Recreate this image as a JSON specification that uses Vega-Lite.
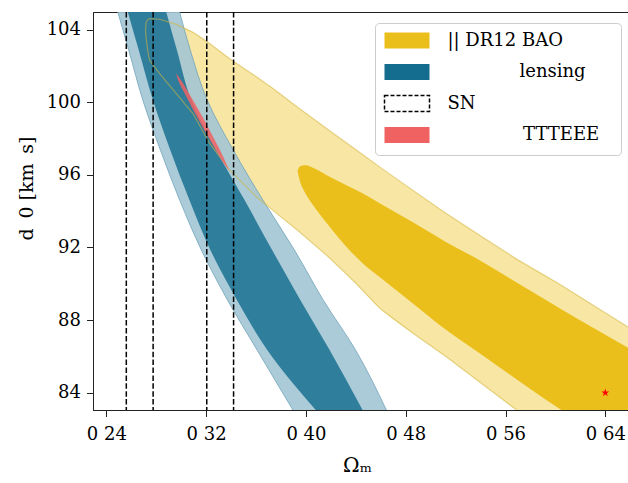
{
  "$schema": "https://vega.github.io/schema/vega-lite/v6.json",
  "width": 535,
  "height": 398,
  "autosize": {"type": "none"},
  "padding": {"left": 93, "top": 12, "right": 0, "bottom": 73},
  "background": "white",
  "config": {"view": {"stroke": "#222222", "strokeWidth": 1}, "font": "DejaVu Serif"},
  "datasets": {
    "yo": [
      {"x": 0.27190, "hi": 104.40, "lo": 103.52},
      {"x": 0.27311, "hi": 104.55, "lo": 102.86},
      {"x": 0.27471, "hi": 104.61, "lo": 102.31},
      {"x": 0.28273, "hi": 104.57, "lo": 101.58},
      {"x": 0.29611, "hi": 104.29, "lo": 100.48},
      {"x": 0.30942, "hi": 103.85, "lo": 99.38},
      {"x": 0.32281, "hi": 103.23, "lo": 97.73},
      {"x": 0.33884, "hi": 102.40, "lo": 96.26},
      {"x": 0.36024, "hi": 101.40, "lo": 94.79},
      {"x": 0.37331, "hi": 100.77, "lo": 94.06},
      {"x": 0.39495, "hi": 99.64, "lo": 92.85},
      {"x": 0.41900, "hi": 98.43, "lo": 91.42},
      {"x": 0.43904, "hi": 97.44, "lo": 90.10},
      {"x": 0.45908, "hi": 96.44, "lo": 88.66},
      {"x": 0.48553, "hi": 95.16, "lo": 87.29},
      {"x": 0.51279, "hi": 93.86, "lo": 85.97},
      {"x": 0.53924, "hi": 92.68, "lo": 84.59},
      {"x": 0.56890, "hi": 91.36, "lo": 83.05},
      {"x": 0.60337, "hi": 89.98, "lo": 81.40},
      {"x": 0.65788, "hi": 87.63, "lo": 78.64},
      {"x": 0.67551, "hi": 86.90, "lo": 77.82}
    ],
    "yi": [
      {"x": 0.39335, "hi": 96.24, "lo": 96.18},
      {"x": 0.39495, "hi": 96.45, "lo": 95.71},
      {"x": 0.39736, "hi": 96.52, "lo": 95.27},
      {"x": 0.40032, "hi": 96.53, "lo": 94.89},
      {"x": 0.40561, "hi": 96.39, "lo": 94.34},
      {"x": 0.41900, "hi": 95.89, "lo": 93.14},
      {"x": 0.43239, "hi": 95.43, "lo": 92.04},
      {"x": 0.44569, "hi": 94.97, "lo": 91.12},
      {"x": 0.45908, "hi": 94.44, "lo": 90.37},
      {"x": 0.48577, "hi": 93.39, "lo": 88.92},
      {"x": 0.51255, "hi": 92.29, "lo": 87.45},
      {"x": 0.53924, "hi": 91.30, "lo": 86.17},
      {"x": 0.56593, "hi": 90.20, "lo": 84.88},
      {"x": 0.59271, "hi": 89.10, "lo": 83.60},
      {"x": 0.61940, "hi": 88.00, "lo": 82.39},
      {"x": 0.65788, "hi": 86.49, "lo": 80.57},
      {"x": 0.67551, "hi": 85.80, "lo": 79.75}
    ],
    "blue": [
      {"H": 105.0, "ll": 0.2491, "dl": 0.2571, "dr": 0.2879, "lr": 0.2986},
      {"H": 102.86, "ll": 0.2580, "dl": 0.2660, "dr": 0.2966, "lr": 0.3073},
      {"H": 100.11, "ll": 0.2693, "dl": 0.2774, "dr": 0.3081, "lr": 0.3209},
      {"H": 97.36, "ll": 0.2834, "dl": 0.2913, "dr": 0.3281, "lr": 0.3418},
      {"H": 94.61, "ll": 0.2988, "dl": 0.3066, "dr": 0.3508, "lr": 0.3655},
      {"H": 91.86, "ll": 0.3162, "dl": 0.3234, "dr": 0.3729, "lr": 0.3908},
      {"H": 89.10, "ll": 0.3372, "dl": 0.3448, "dr": 0.3956, "lr": 0.4139},
      {"H": 86.35, "ll": 0.3609, "dl": 0.3690, "dr": 0.4190, "lr": 0.4398},
      {"H": 83.0, "ll": 0.3900, "dl": 0.4085, "dr": 0.4458, "lr": 0.4648}
    ],
    "red": [
      {"H": 101.60, "xl": 0.29580, "xr": 0.29580},
      {"H": 101.21, "xl": 0.29760, "xr": 0.29990},
      {"H": 100.39, "xl": 0.30353, "xr": 0.30713},
      {"H": 99.01, "xl": 0.31411, "xr": 0.31852},
      {"H": 97.64, "xl": 0.32541, "xr": 0.32902},
      {"H": 96.81, "xl": 0.33263, "xr": 0.33495},
      {"H": 96.20, "xl": 0.33850, "xr": 0.33850}
    ],
    "outline": [
      {"o": 1, "x": 0.27140, "H": 103.95},
      {"o": 2, "x": 0.27190, "H": 104.40},
      {"o": 3, "x": 0.27311, "H": 104.55},
      {"o": 4, "x": 0.27471, "H": 104.61},
      {"o": 5, "x": 0.28273, "H": 104.57},
      {"o": 6, "x": 0.29611, "H": 104.29},
      {"o": 7, "x": 0.30942, "H": 103.85},
      {"o": 8, "x": 0.32281, "H": 103.23},
      {"o": 9, "x": 0.33884, "H": 102.40},
      {"o": 10, "x": 0.36024, "H": 101.40},
      {"o": 11, "x": 0.37331, "H": 100.77},
      {"o": 12, "x": 0.39495, "H": 99.64},
      {"o": 13, "x": 0.41900, "H": 98.43},
      {"o": 14, "x": 0.43904, "H": 97.44},
      {"o": 15, "x": 0.45908, "H": 96.44},
      {"o": 16, "x": 0.48553, "H": 95.16},
      {"o": 17, "x": 0.51279, "H": 93.86},
      {"o": 18, "x": 0.53924, "H": 92.68},
      {"o": 19, "x": 0.56890, "H": 91.36},
      {"o": 20, "x": 0.60337, "H": 89.98},
      {"o": 21, "x": 0.65788, "H": 87.63},
      {"o": 22, "x": 0.67551, "H": 86.90},
      {"o": 23, "x": 0.67551, "H": 77.82},
      {"o": 24, "x": 0.65788, "H": 78.64},
      {"o": 25, "x": 0.60337, "H": 81.40},
      {"o": 26, "x": 0.56890, "H": 83.05},
      {"o": 27, "x": 0.53924, "H": 84.59},
      {"o": 28, "x": 0.51279, "H": 85.97},
      {"o": 29, "x": 0.48553, "H": 87.29},
      {"o": 30, "x": 0.45908, "H": 88.66},
      {"o": 31, "x": 0.43904, "H": 90.10},
      {"o": 32, "x": 0.41900, "H": 91.42},
      {"o": 33, "x": 0.39495, "H": 92.85},
      {"o": 34, "x": 0.37331, "H": 94.06},
      {"o": 35, "x": 0.36024, "H": 94.79},
      {"o": 36, "x": 0.33884, "H": 96.26},
      {"o": 37, "x": 0.32281, "H": 97.73},
      {"o": 38, "x": 0.30942, "H": 99.38},
      {"o": 39, "x": 0.29611, "H": 100.48},
      {"o": 40, "x": 0.28273, "H": 101.58},
      {"o": 41, "x": 0.27471, "H": 102.31},
      {"o": 42, "x": 0.27311, "H": 102.86},
      {"o": 43, "x": 0.27190, "H": 103.52},
      {"o": 44, "x": 0.27140, "H": 103.95}
    ],
    "sn": [{"x": 0.2560}, {"x": 0.2775}, {"x": 0.3205}, {"x": 0.3420}],
    "star": [{"x": 0.64, "H": 84}]
  },
  "layer": [
    {
      "data": {"name": "yo"},
      "mark": {"type": "area", "orient": "vertical", "fill": "#f7e6a4", "interpolate": "monotone", "clip": true},
      "encoding": {
        "x": {"field": "x", "type": "quantitative", "title": "Ωₘ",
          "scale": {"domain": [0.2293, 0.6582], "nice": false, "zero": false},
          "axis": {"values": [0.24, 0.32, 0.40, 0.48, 0.56, 0.64],
            "labelExpr": "replace(format(datum.value, '.2f'), '.', ' ')",
            "labelFont": "DejaVu Serif", "labelFontSize": 18, "labelColor": "black",
            "labelPadding": 9, "labelFlush": false, "labelOverlap": false, "labelBound": false,
            "tickSize": 6.5, "tickColor": "#222222", "domainColor": "#222222", "grid": false,
            "titleFont": "DejaVu Serif", "titleFontSize": 20, "titleFontWeight": "normal", "titleColor": "black",
            "titleX": 264, "titleY": 45, "titleAlign": "center", "titleBaseline": "top"}},
        "y": {"field": "hi", "type": "quantitative", "title": "d\u2009 0 [km\u2009 s]",
          "scale": {"domain": [83.05, 104.97], "nice": false, "zero": false},
          "axis": {"values": [84, 88, 92, 96, 100, 104],
            "labelFont": "DejaVu Serif", "labelFontSize": 18, "labelColor": "black",
            "labelPadding": 6, "labelFlush": false, "labelOverlap": false, "labelBound": false,
            "tickSize": 6.5, "tickColor": "#222222", "domainColor": "#222222", "grid": false,
            "titleFont": "DejaVu Serif", "titleFontSize": 19, "titleFontWeight": "normal", "titleColor": "black",
            "titleX": -67, "titleY": 176, "titleAngle": -90, "titleAlign": "center", "titleBaseline": "middle"}},
        "y2": {"field": "lo"}
      }
    },
    {
      "data": {"name": "yi"},
      "mark": {"type": "area", "orient": "vertical", "interpolate": "monotone", "clip": true},
      "encoding": {
        "x": {"field": "x", "type": "quantitative", "title": "Ωₘ"},
        "y": {"field": "hi", "type": "quantitative", "title": "d\u2009 0 [km\u2009 s]"},
        "y2": {"field": "lo"},
        "color": {"datum": "|| DR12 BAO", "type": "nominal",
          "scale": {"domain": ["|| DR12 BAO", "lensing", "SN", "TTTEEE"],
            "range": ["#ebbf1b", "#146c8f", "transparent", "#f06262"]},
          "legend": {"title": null, "orient": "none", "legendX": 282, "legendY": 11,
            "symbolType": "M-1,-1H4.625V1H-1Z", "symbolSize": 256,
            "labelFont": "DejaVu Serif", "labelFontSize": 18, "labelColor": "black", "labelLimit": 400,
            "labelExpr": "datum.label == 'lensing' ? '\u200b\u2003\u2003\u2003\u2003lensing' : (datum.label == 'TTTEEE' ? '\u200b\u2003\u2003\u2003\u2003\u2009TTTEEE\u2002\u2009\u200b' : datum.label)",
            "labelOffset": 46, "rowPadding": 9.5, "padding": 8.5,
            "strokeColor": "#cccccc", "cornerRadius": 4, "fillColor": "white",
            "encode": {"symbols": {"update": {
              "stroke": {"signal": "datum.value === 'SN' ? '#000000' : 'transparent'"},
              "strokeDash": {"signal": "datum.value === 'SN' ? [4, 2] : [1, 0]"},
              "strokeWidth": {"value": 1.5},
              "opacity": {"value": 1}}}}}}
      }
    },
    {
      "data": {"name": "blue"},
      "mark": {"type": "area", "orient": "horizontal", "fill": "#a3c6d4", "opacity": 0.9, "stroke": "#76a8bf", "strokeWidth": 1, "interpolate": "monotone", "clip": true},
      "encoding": {
        "y": {"field": "H", "type": "quantitative", "title": "d\u2009 0 [km\u2009 s]"},
        "x": {"field": "ll", "type": "quantitative", "title": "Ωₘ"},
        "x2": {"field": "lr"}
      }
    },
    {
      "data": {"name": "blue"},
      "mark": {"type": "area", "orient": "horizontal", "fill": "#146c8f", "opacity": 0.82, "interpolate": "monotone", "clip": true},
      "encoding": {
        "y": {"field": "H", "type": "quantitative", "title": "d\u2009 0 [km\u2009 s]"},
        "x": {"field": "dl", "type": "quantitative", "title": "Ωₘ"},
        "x2": {"field": "dr"}
      }
    },
    {
      "data": {"name": "outline"},
      "mark": {"type": "line", "stroke": "#d4b43a", "opacity": 0.55, "strokeWidth": 1.2, "interpolate": "linear", "clip": true},
      "encoding": {
        "x": {"field": "x", "type": "quantitative", "title": "Ωₘ"},
        "y": {"field": "H", "type": "quantitative", "title": "d\u2009 0 [km\u2009 s]"},
        "order": {"field": "o", "type": "quantitative"}
      }
    },
    {
      "data": {"name": "red"},
      "mark": {"type": "area", "orient": "horizontal", "fill": "#f06262", "opacity": 0.85, "interpolate": "monotone", "clip": true},
      "encoding": {
        "y": {"field": "H", "type": "quantitative", "title": "d\u2009 0 [km\u2009 s]"},
        "x": {"field": "xl", "type": "quantitative", "title": "Ωₘ"},
        "x2": {"field": "xr"}
      }
    },
    {
      "data": {"name": "sn"},
      "mark": {"type": "rule", "stroke": "#000000", "strokeDash": [5.5, 2.4], "strokeWidth": 1.5},
      "encoding": {
        "x": {"field": "x", "type": "quantitative", "title": "Ωₘ"}
      }
    },
    {
      "data": {"name": "star"},
      "mark": {"type": "point", "filled": true, "fill": "#ff0000", "opacity": 1, "size": 70,
        "shape": "M0,-1L0.2245,-0.309L0.951,-0.309L0.3633,0.118L0.5878,0.809L0,0.382L-0.5878,0.809L-0.3633,0.118L-0.951,-0.309L-0.2245,-0.309Z"},
      "encoding": {
        "x": {"field": "x", "type": "quantitative", "title": "Ωₘ"},
        "y": {"field": "H", "type": "quantitative", "title": "d\u2009 0 [km\u2009 s]"}
      }
    }
  ]
}
